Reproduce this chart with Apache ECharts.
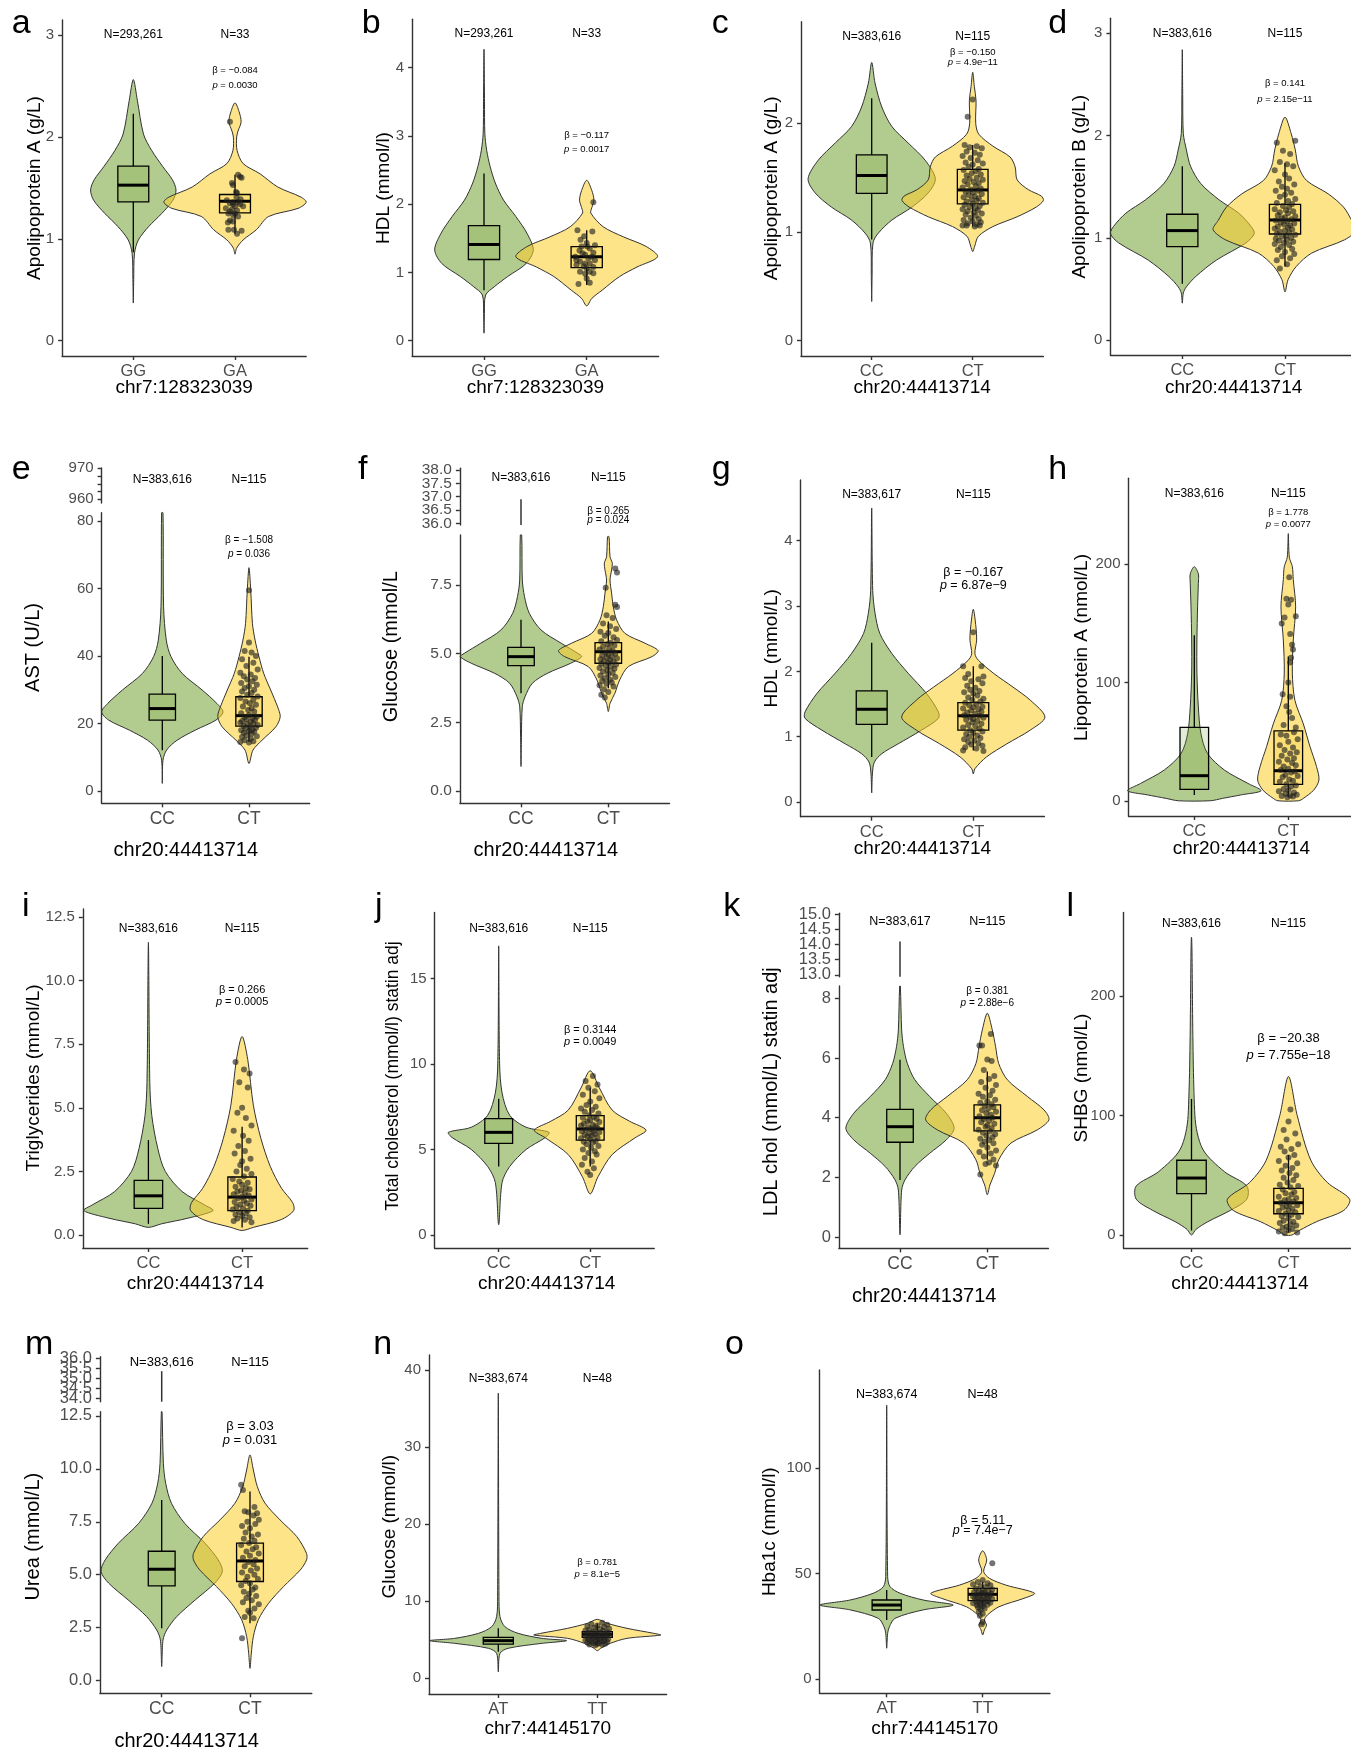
<!DOCTYPE html>
<html>
<head>
<meta charset="utf-8">
<script src="https://cdn.jsdelivr.net/npm/echarts@6.0.0/dist/echarts.min.js"></script>
<style>html,body{margin:0;padding:0;background:#fff;}#chart{width:1351px;height:1749px;}</style>
</head>
<body>
<div id="chart"></div>
<script>
// ======================= DATA =======================
const panelIds = ['a','b','c','d','e','f','g','h','i','j','k','l','m','n','o'];
const yTitles = ['Apolipoprotein A (g/L)','HDL (mmol/l)','Apolipoprotein A (g/L)','Apolipoprotein B (g/L)',
  'AST (U/L)','Glucose (mmol/L','HDL (mmol/L)','Lipoprotein A (nmol/L)',
  'Triglycerides (mmol/L)','Total cholesterol (mmol/l) statin adj','LDL chol (mmol/L) statin adj','SHBG (nmol/L)',
  'Urea (mmol/L)','Glucose (mmol/l)','Hba1c (mmol/l)'];
const xTitles = ['chr7:128323039','chr7:128323039','chr20:44413714','chr20:44413714',
  'chr20:44413714','chr20:44413714','chr20:44413714','chr20:44413714',
  'chr20:44413714','chr20:44413714','chr20:44413714','chr20:44413714',
  'chr20:44413714','chr7:44145170','chr7:44145170'];
const groupLabels = [['GG','GA'],['GG','GA'],['CC','CT'],['CC','CT'],['CC','CT'],['CC','CT'],['CC','CT'],['CC','CT'],
  ['CC','CT'],['CC','CT'],['CC','CT'],['CC','CT'],['CC','CT'],['AT','TT'],['AT','TT']];
const yTickLabels = [['0','1','2','3'],['0','1','2','3','4'],['0','1','2'],['0','1','2','3'],
  ['0','20','40','60','80'],['0.0','2.5','5.0','7.5'],['0','1','2','3','4'],['0','100','200'],
  ['0.0','2.5','5.0','7.5','10.0','12.5'],['0','5','10','15'],['0','2','4','6','8'],['0','100','200'],
  ['0.0','2.5','5.0','7.5','10.0','12.5'],['0','10','20','30','40'],['0','50','100']];
const nLabels = [['N=293,261','N=33'],['N=293,261','N=33'],['N=383,616','N=115'],['N=383,616','N=115'],
  ['N=383,616','N=115'],['N=383,616','N=115'],['N=383,617','N=115'],['N=383,616','N=115'],
  ['N=383,616','N=115'],['N=383,616','N=115'],['N=383,617','N=115'],['N=383,616','N=115'],
  ['N=383,616','N=115'],['N=383,674','N=48'],['N=383,674','N=48']];
const betaValues = ['\u22120.084','\u22120.117','\u22120.150','0.141','\u22121.508','0.265','\u22120.167','1.778',
  '0.266','0.3144','0.381','\u221220.38','3.03','0.781','5.11'];
const pValues = ['0.0030','0.0017','4.9e\u221211','2.15e\u221211','0.036','0.024','6.87e\u22129','0.0077',
  '0.0005','0.0049','2.88e\u22126','7.755e\u221218','0.031','8.1e\u22125','7.4e\u22127'];

// broken-axis upper segments (tick values / labelled ticks / whisker tail drawn there)
const e_upperTicks = ['960','962.5','965','967.5','970'];
const e_upperLabels = ['960','970'];
const f_upperTicks = ['36.0','36.5','37.0','37.5','38.0'];
const f_upperTail = [35.94, 36.9];
const k_upperTicks = ['13.0','13.5','14.0','14.5','15.0'];
const k_upperTail = [12.94, 14.1];
const m_upperTicks = ['34.0','34.5','35.0','35.5','36.0'];
const m_upperTail = [33.84, 35.36];

// violin outlines: [value, half-width in category units], top to bottom
const a_violin1 = [[2.565,0],[2.36,0.04],[2.03,0.1],[1.87,0.18],[1.71,0.29],[1.58,0.385],[1.48,0.42],[1.38,0.39],[1.25,0.28],[1.12,0.15],[0.99,0.05],[0.86,0.012],[0.6,0.004],[0.37,0]];
const a_violin2 = [[2.336,0],[2.25,0.04],[2.15,0.06],[2.06,0.03],[2.0,0.016],[1.87,0.02],[1.74,0.08],[1.64,0.245],[1.51,0.42],[1.41,0.65],[1.36,0.70],[1.30,0.62],[1.22,0.33],[1.09,0.21],[0.99,0.08],[0.91,0.016],[0.85,0]];
const b_violin1 = [[4.27,0],[3.5,0.005],[3.04,0.008],[2.79,0.026],[2.55,0.06],[2.31,0.11],[2.06,0.19],[1.82,0.31],[1.57,0.42],[1.33,0.48],[1.13,0.41],[0.94,0.23],[0.79,0.1],[0.67,0.016],[0.4,0.004],[0.11,0]];
const b_violin2 = [[2.35,0],[2.2,0.05],[2.06,0.07],[1.95,0.05],[1.87,0.04],[1.67,0.16],[1.52,0.36],[1.38,0.58],[1.23,0.69],[1.08,0.49],[0.94,0.32],[0.74,0.15],[0.62,0.05],[0.51,0]];
const c_violin1 = [[2.56,0],[2.37,0.033],[2.15,0.1],[1.97,0.2],[1.82,0.36],[1.66,0.53],[1.49,0.63],[1.36,0.56],[1.23,0.40],[1.11,0.2],[0.99,0.066],[0.9,0.013],[0.6,0.004],[0.36,0]];
const c_violin2 = [[2.47,0],[2.34,0.016],[2.21,0.033],[2.0,0.03],[1.9,0.06],[1.79,0.2],[1.69,0.37],[1.6,0.42],[1.48,0.44],[1.39,0.55],[1.33,0.68],[1.29,0.70],[1.23,0.63],[1.14,0.44],[1.05,0.2],[0.96,0.056],[0.87,0.02],[0.82,0]];
const d_violin1 = [[2.84,0],[2.4,0.004],[2.02,0.01],[1.86,0.04],[1.70,0.08],[1.53,0.18],[1.37,0.36],[1.24,0.55],[1.11,0.67],[1.04,0.70],[0.95,0.62],[0.78,0.33],[0.62,0.13],[0.52,0.04],[0.46,0.01],[0.36,0]];
const d_violin2 = [[2.18,0],[2.02,0.06],[1.86,0.1],[1.70,0.13],[1.56,0.21],[1.43,0.42],[1.30,0.57],[1.17,0.65],[1.08,0.70],[0.98,0.58],[0.85,0.26],[0.72,0.11],[0.59,0.03],[0.47,0]];
const e_violin1 = [[82.5,0.008],[54.6,0.015],[44.7,0.046],[39.8,0.1],[34.8,0.23],[29.9,0.46],[25.9,0.63],[23.4,0.70],[21.0,0.62],[18.0,0.38],[15.0,0.17],[12.1,0.05],[9.1,0.008],[2.2,0]];
const e_violin2 = [[66.2,0],[59.5,0.02],[49.6,0.04],[44.7,0.07],[39.8,0.115],[34.8,0.17],[29.9,0.25],[24.9,0.33],[22.0,0.36],[19.0,0.31],[15.0,0.15],[12.1,0.046],[8.1,0]];
const f_violin1 = [[9.32,0.008],[7.68,0.015],[7.08,0.04],[6.47,0.095],[5.86,0.23],[5.38,0.46],[5.01,0.65],[4.89,0.695],[4.65,0.57],[4.28,0.3],[3.92,0.13],[3.43,0.046],[3.07,0.015],[2.0,0.005],[0.89,0]];
const f_violin2 = [[9.26,0.008],[8.53,0.02],[8.29,0.046],[8.05,0.038],[7.68,0.02],[7.2,0.038],[6.71,0.057],[6.23,0.095],[5.74,0.19],[5.38,0.42],[5.11,0.57],[4.89,0.5],[4.53,0.23],[4.04,0.13],[3.56,0.076],[3.19,0.02],[2.89,0]];
const g_violin1 = [[4.5,0],[3.24,0.01],[2.89,0.033],[2.58,0.08],[2.27,0.2],[1.97,0.36],[1.66,0.54],[1.38,0.656],[1.28,0.656],[1.10,0.49],[0.89,0.26],[0.74,0.1],[0.61,0.026],[0.43,0.007],[0.14,0]];
const g_violin2 = [[2.95,0],[2.68,0.026],[2.48,0.033],[2.27,0.016],[2.17,0.05],[1.97,0.2],[1.76,0.39],[1.56,0.56],[1.30,0.705],[1.10,0.56],[0.89,0.33],[0.69,0.13],[0.51,0.016],[0.43,0]];
const h_violin1 = [[198,0],[192,0.043],[184,0.043],[164,0.035],[136,0.028],[108,0.028],[79.5,0.043],[57,0.07],[40,0.14],[26,0.32],[14.7,0.57],[8.5,0.71],[5,0.5],[2,0.3],[0,0.17]];
const h_violin2 = [[226,0],[206,0.011],[198,0.043],[187,0.053],[164,0.078],[136,0.053],[108,0.043],[85,0.07],[65,0.16],[46,0.23],[29,0.30],[17.5,0.326],[9,0.27],[2,0.16],[0,0.11]];
const i_violin1 = [[11.5,0],[6,0.015],[4.7,0.036],[3.4,0.1],[2.5,0.18],[1.71,0.36],[1.18,0.6],[0.96,0.69],[0.66,0.42],[0.44,0.14],[0.3,0]];
const i_violin2 = [[7.8,0],[6.9,0.06],[5.1,0.12],[3.8,0.2],[2.7,0.3],[1.84,0.42],[1.27,0.54],[0.96,0.55],[0.61,0.42],[0.3,0.12],[0.18,0]];
const j_violin1 = [[16.9,0],[10,0.01],[8.3,0.037],[7.0,0.12],[6.3,0.3],[6.0,0.55],[5.7,0.51],[5.0,0.3],[4.0,0.12],[3.07,0.037],[0.6,0]];
const j_violin2 = [[9.6,0],[8.6,0.1],[7.3,0.24],[6.65,0.43],[6.13,0.61],[5.68,0.49],[4.7,0.24],[3.4,0.085],[2.4,0]];
const k_violin1 = [[8.41,0.004],[6.94,0.019],[6.38,0.04],[5.82,0.084],[5.27,0.17],[4.71,0.34],[4.15,0.53],[3.65,0.62],[3.26,0.53],[2.81,0.34],[2.37,0.17],[1.92,0.057],[1.58,0.019],[0.08,0]];
const k_violin2 = [[7.5,0],[6.94,0.057],[6.38,0.095],[5.82,0.13],[5.27,0.23],[4.71,0.46],[4.26,0.65],[3.93,0.706],[3.59,0.57],[3.15,0.27],[2.59,0.13],[2.14,0.084],[1.75,0.03],[1.42,0]];
const l_violin1 = [[249.5,0],[100,0.035],[72,0.115],[53,0.34],[41,0.57],[30,0.57],[20.6,0.4],[11.2,0.17],[4.7,0.046],[0,0]];
const l_violin2 = [[132.7,0],[100,0.09],[62.6,0.23],[44,0.4],[30,0.63],[20.6,0.57],[11.2,0.29],[3.7,0.11],[0,0.035]];
const m_violin1 = [[12.7,0.004],[10.26,0.019],[9.32,0.045],[8.38,0.11],[7.43,0.26],[6.49,0.49],[5.70,0.64],[5.15,0.687],[4.6,0.6],[3.81,0.38],[3.02,0.17],[2.39,0.057],[1.92,0.015],[0.66,0]];
const m_violin2 = [[10.66,0],[9.95,0.038],[9.16,0.083],[8.38,0.17],[7.59,0.34],[6.8,0.53],[6.01,0.64],[5.70,0.64],[5.23,0.57],[4.44,0.38],[3.65,0.21],[2.87,0.094],[2.08,0.038],[1.29,0.015],[0.58,0]];
const n_violin1 = [[37,0],[10.6,0.007],[8,0.017],[6.7,0.067],[5.84,0.2],[5.19,0.44],[4.89,0.69],[4.54,0.44],[3.9,0.1],[3.24,0.017],[0.86,0]];
const n_violin2 = [[7.65,0],[7.14,0.1],[6.49,0.3],[5.84,0.57],[5.62,0.64],[5.19,0.3],[4.54,0.13],[3.9,0.034],[3.59,0]];
const o_violin1 = [[130,0],[48.6,0.01],[43.8,0.035],[40.7,0.14],[37.5,0.38],[35.1,0.694],[32.8,0.38],[28.8,0.087],[24.8,0.028],[21.7,0.01],[14.6,0]];
const o_violin2 = [[60.9,0],[56.5,0.042],[51,0.01],[47.8,0.07],[44.6,0.24],[40.7,0.54],[38.3,0.43],[34.3,0.17],[30.4,0.05],[28,0.017],[25.6,0.04],[23.3,0.017],[20.9,0]];

// boxplots: [lower whisker, Q1, median, Q3, upper whisker]
const a_box1 = [0.87,1.364,1.528,1.714,2.23],   a_box2 = [1.05,1.256,1.37,1.436,1.63];
const b_box1 = [0.74,1.19,1.41,1.685,2.45],     b_box2 = [0.816,1.07,1.23,1.377,1.62];
const c_box1 = [0.93,1.356,1.52,1.71,2.23],     c_box2 = [1.05,1.258,1.387,1.577,1.80];
const d_box1 = [0.55,0.913,1.07,1.23,1.70],     d_box2 = [0.72,1.037,1.174,1.327,1.73];
const e_box1 = [12,21.0,24.4,28.7,40.0],        e_box2 = [14.5,19.2,22.3,27.9,39.8];
const f_box1 = [3.56,4.56,4.89,5.23,6.23],      f_box2 = [3.74,4.65,5.07,5.40,6.17];
const g_box1 = [0.69,1.19,1.42,1.70,2.44],      g_box2 = [0.79,1.10,1.32,1.52,2.08];
const h_box1 = [4.8,9.6,21.2,62,140],           h_box2 = [3.4,13.8,25.4,59.2,122];
const i_box1 = [0.44,1.05,1.54,2.15,3.73],      i_box2 = [0.3,0.96,1.49,2.28,4.25];
const j_box1 = [4.0,5.35,6.0,6.8,7.96],         j_box2 = [4.0,5.54,6.2,6.98,8.6];
const k_box1 = [1.92,3.18,3.70,4.28,5.94],      k_box2 = [2.59,3.56,4.0,4.43,5.55];
const l_box1 = [3.7,34.6,47.7,62.6,114],        l_box2 = [2,17.8,27,39,67];
const m_box1 = [2.47,4.47,5.26,6.11,8.53],      m_box2 = [2.71,4.68,5.65,6.49,8.93];
const n_box1 = [3.46,4.45,4.89,5.32,6.49],      n_box2 = [4.32,5.32,5.71,6.05,7.13];
const o_box1 = [28,32.75,35.1,37.5,42.2],       o_box2 = [34.3,37.2,40.2,43.0,46.2];

// jittered individual points of the second genotype: [offset from category, value]
const a_points = [[-0.05,2.15],[-0.03,1.55],[-0.02,1.53],[0.03,1.63],[0.05,1.61],[0.065,1.60],[0.01,1.46],[0.02,1.45],[-0.02,1.36],[-0.05,1.35],[-0.08,1.38],[0,1.32],[0.05,1.34],[-0.03,1.29],[0.02,1.28],[-0.065,1.25],[-0.015,1.23],[0.03,1.22],[-0.05,1.18],[-0.02,1.17],[-0.07,1.16],[0.015,1.41],[0.055,1.39],[-0.01,1.09],[0.02,1.05],[0.065,1.08],[-0.065,1.09],[-0.02,1.34],[0.03,1.36],[0,1.25],[-0.05,1.27],[0.08,1.32],[-0.09,1.30]];
const b_points = [[0.065,2.03],[-0.09,1.62],[0.055,1.6],[-0.025,1.53],[0,1.43],[-0.05,1.38],[0.03,1.35],[-0.07,1.32],[0.065,1.29],[-0.015,1.26],[-0.11,1.23],[0.015,1.21],[0.08,1.18],[-0.065,1.16],[0.03,1.13],[-0.03,1.09],[-0.1,1.11],[0.065,1.08],[0,1.06],[-0.065,1.01],[0.03,1.01],[-0.015,0.98],[-0.08,0.83],[0.03,0.85],[-0.04,1.28],[0.05,1.23],[0.005,1.38],[-0.06,1.48],[0.08,1.40],[-0.015,1.13],[-0.1,1.18],[0.065,0.99],[0,0.91]];
const c_points = [[-0.05,2.06],[0.0,2.22],[-0.08,1.80],[-0.03,1.78],[0.04,1.79],[0.09,1.77],[-0.06,1.74],[0.02,1.73],[0.07,1.71],[-0.1,1.70],[-0.02,1.68],[0.05,1.66],[-0.07,1.64],[0.1,1.63],[0.0,1.62],[-0.04,1.60],[0.06,1.58],[-0.09,1.57],[0.03,1.56],[-0.01,1.54],[0.08,1.53],[-0.06,1.52],[0.04,1.50],[-0.03,1.49],[0.1,1.48],[-0.08,1.47],[0.01,1.46],[0.06,1.45],[-0.05,1.44],[0.03,1.42],[-0.1,1.41],[0.08,1.40],[-0.02,1.39],[0.05,1.38],[-0.07,1.37],[0.0,1.36],[0.09,1.35],[-0.04,1.34],[0.02,1.33],[-0.09,1.32],[0.06,1.31],[-0.01,1.30],[0.04,1.29],[-0.06,1.28],[0.1,1.27],[0.0,1.26],[-0.08,1.25],[0.07,1.24],[-0.03,1.23],[0.03,1.22],[-0.1,1.21],[0.05,1.20],[-0.05,1.19],[0.01,1.18],[0.09,1.17],[-0.07,1.16],[0.03,1.15],[-0.02,1.13],[0.06,1.12],[-0.09,1.11],[0.0,1.10],[0.08,1.09],[-0.05,1.08],[0.04,1.07],[-0.1,1.06],[-0.06,1.06],[0.07,1.06],[0.02,1.05]];
const d_points = [[0.1,1.95],[-0.08,1.93],[-0.02,1.85],[0.05,1.82],[-0.05,1.74],[0.02,1.72],[0.08,1.70],[-0.1,1.66],[0.0,1.62],[0.04,1.58],[-0.06,1.55],[0.09,1.52],[-0.03,1.50],[0.02,1.48],[-0.09,1.46],[0.06,1.44],[0.0,1.42],[-0.05,1.40],[0.1,1.38],[0.03,1.36],[-0.08,1.34],[0.07,1.33],[-0.02,1.31],[0.04,1.30],[-0.1,1.28],[0.01,1.27],[0.08,1.26],[-0.05,1.25],[0.03,1.24],[-0.07,1.22],[0.1,1.21],[0.0,1.20],[-0.03,1.19],[0.06,1.18],[-0.09,1.17],[0.02,1.16],[-0.04,1.15],[0.09,1.14],[-0.01,1.13],[0.05,1.12],[-0.07,1.11],[0.03,1.10],[-0.1,1.09],[0.07,1.08],[0.0,1.07],[-0.05,1.06],[0.04,1.05],[-0.08,1.04],[0.1,1.03],[0.01,1.02],[-0.03,1.01],[0.06,1.00],[-0.09,0.99],[0.02,0.98],[-0.06,0.97],[0.08,0.96],[-0.01,0.95],[-0.1,0.94],[0.04,0.93],[-0.04,0.91],[0.07,0.89],[-0.07,0.88],[0.0,0.86],[0.09,0.84],[-0.03,0.82],[0.05,0.80],[-0.08,0.78],[0.02,0.74],[-0.05,0.70]];
const e_points = [[0.0,59.5],[0.0,44],[-0.05,41.5],[0.03,41],[0.08,40],[-0.08,39],[0.05,38],[-0.03,37],[0.1,36],[-0.1,35],[0.02,34.5],[-0.06,34],[0.07,33.5],[-0.02,33],[0.04,32.5],[-0.09,32],[0.09,31.5],[0.0,31],[-0.05,30.5],[0.06,30],[-0.08,29.5],[0.03,29],[-0.02,28.5],[0.1,28],[-0.1,27.5],[0.05,27],[-0.04,26.5],[0.01,26],[0.08,25.5],[-0.07,25],[0.03,24.5],[-0.01,24],[0.06,23.5],[-0.09,23],[0.0,22.5],[0.09,22],[-0.05,21.8],[0.04,21.5],[-0.03,21.2],[0.07,21],[-0.08,20.7],[0.02,20.5],[-0.1,20.2],[0.05,20],[-0.02,19.8],[0.1,19.5],[-0.06,19.2],[0.01,19],[0.08,18.7],[-0.04,18.5],[0.04,18.2],[-0.09,18],[0.0,17.7],[0.06,17.5],[-0.06,17.2],[0.03,17],[-0.03,16.5],[0.09,16.2],[-0.08,16],[0.02,15.5],[-0.05,15],[0.05,14.7],[-0.1,14.5],[0.0,14.3]];
const f_points = [[0.08,8.1],[0.1,7.95],[-0.03,7.4],[0.08,6.78],[0.1,6.7],[-0.02,6.4],[0.05,6.3],[-0.06,6.1],[0.02,6.0],[0.09,5.9],[-0.09,5.8],[0.0,5.75],[-0.04,5.65],[0.06,5.6],[0.1,5.5],[-0.08,5.45],[0.03,5.4],[-0.01,5.35],[0.07,5.3],[-0.06,5.25],[0.01,5.2],[-0.1,5.15],[0.05,5.1],[-0.03,5.05],[0.08,5.0],[0.0,4.97],[-0.07,4.93],[0.04,4.9],[-0.02,4.86],[0.1,4.83],[-0.09,4.8],[0.02,4.77],[-0.05,4.73],[0.06,4.7],[0.0,4.67],[-0.08,4.63],[0.09,4.6],[-0.03,4.56],[0.03,4.52],[-0.1,4.48],[0.07,4.45],[-0.01,4.4],[-0.06,4.35],[0.05,4.3],[0.0,4.25],[-0.09,4.2],[0.08,4.15],[-0.04,4.1],[0.02,4.05],[-0.07,4.0],[0.04,3.95],[-0.02,3.9],[-0.1,3.85],[0.06,3.8],[-0.05,3.7],[0.0,3.6],[-0.08,3.5],[-0.04,3.4]];
const g_points = [[0.0,2.6],[-0.1,2.08],[0.08,2.08],[-0.05,1.96],[0.1,1.92],[-0.08,1.9],[0.05,1.88],[-0.02,1.85],[0.09,1.82],[-0.06,1.78],[0.02,1.75],[-0.03,1.72],[0.06,1.7],[-0.09,1.68],[0.0,1.66],[0.04,1.63],[-0.05,1.6],[0.1,1.58],[-0.01,1.56],[0.07,1.54],[-0.08,1.52],[0.03,1.5],[-0.04,1.48],[0.09,1.46],[0.0,1.45],[-0.1,1.43],[0.05,1.42],[-0.02,1.4],[0.08,1.38],[-0.06,1.37],[0.02,1.35],[-0.09,1.33],[0.06,1.32],[-0.03,1.3],[0.1,1.29],[0.0,1.27],[-0.07,1.26],[0.04,1.24],[-0.01,1.22],[0.08,1.2],[-0.05,1.18],[0.02,1.16],[-0.1,1.14],[0.06,1.12],[-0.03,1.1],[0.09,1.08],[0.0,1.06],[-0.07,1.04],[0.04,1.02],[-0.04,1.0],[0.07,0.98],[-0.09,0.96],[0.01,0.94],[-0.05,0.92],[0.05,0.9],[-0.02,0.88],[0.09,0.86],[-0.08,0.84],[0.03,0.82],[-0.1,0.79],[0.1,0.78]];
const h_points = [[0.01,189],[-0.02,171],[0.03,170],[0.0,166],[-0.07,150],[0.08,156],[-0.04,155],[0.02,141],[0.04,132],[0.05,128],[0.03,121],[0.02,117],[0.0,100],[-0.06,90],[0.02,88],[-0.02,80],[0.01,75],[0.04,70],[-0.05,64],[0.08,62],[0.06,58],[-0.08,56],[-0.02,55],[0.1,52],[0.0,50],[-0.09,47],[0.05,45],[-0.04,43],[0.09,41],[0.02,40],[-0.07,38],[0.06,36],[-0.01,35],[-0.1,33],[0.04,32],[0.08,30],[-0.05,29],[0.0,27],[-0.08,26],[0.07,25],[0.03,24],[-0.03,22],[0.1,21],[-0.06,20],[0.01,18],[0.05,17],[-0.09,16],[-0.02,14],[0.08,13],[0.03,12],[-0.05,10],[0.0,9],[-0.1,8],[0.06,7],[-0.03,6],[0.09,5],[0.02,4.5],[-0.07,4],[0.05,3.5],[-0.01,3]];
const i_points = [[-0.07,6.8],[0.02,6.5],[0.08,6.35],[-0.03,6.0],[0.06,5.8],[0.0,5.0],[-0.05,4.8],[0.04,4.6],[0.1,4.3],[-0.09,4.1],[0.01,3.9],[0.07,3.7],[-0.04,3.5],[0.03,3.3],[-0.08,3.2],[0.09,3.0],[0.0,2.9],[-0.02,2.75],[0.05,2.6],[-0.06,2.5],[0.1,2.4],[0.02,2.3],[-0.1,2.2],[-0.03,2.1],[0.06,2.05],[0.0,1.98],[-0.07,1.9],[0.04,1.85],[0.08,1.8],[-0.01,1.75],[-0.05,1.7],[0.03,1.65],[-0.09,1.6],[0.07,1.55],[0.0,1.5],[-0.04,1.45],[0.1,1.4],[0.02,1.35],[-0.08,1.3],[0.05,1.25],[-0.02,1.2],[0.09,1.15],[-0.06,1.1],[0.01,1.05],[-0.1,1.0],[0.06,0.95],[-0.03,0.9],[0.04,0.85],[-0.07,0.8],[0.0,0.75],[0.08,0.7],[-0.05,0.65],[0.03,0.6],[-0.09,0.55],[0.1,0.5]];
const j_points = [[0.03,9.3],[-0.05,9.0],[0.08,8.8],[-0.02,8.6],[0.05,8.4],[-0.08,8.2],[0.1,8.0],[0.0,7.8],[-0.04,7.6],[0.06,7.5],[-0.1,7.4],[0.02,7.3],[-0.06,7.2],[0.09,7.1],[-0.01,7.0],[0.04,6.9],[-0.08,6.85],[0.07,6.8],[0.0,6.7],[-0.03,6.65],[0.1,6.6],[-0.07,6.5],[0.03,6.45],[-0.1,6.4],[0.06,6.35],[-0.02,6.3],[0.08,6.25],[0.01,6.2],[-0.05,6.15],[0.04,6.1],[-0.09,6.05],[0.1,6.0],[-0.01,5.95],[0.05,5.9],[-0.06,5.85],[0.02,5.8],[-0.03,5.75],[0.08,5.7],[-0.1,5.65],[0.0,5.6],[0.06,5.5],[-0.07,5.45],[0.03,5.4],[-0.04,5.3],[0.09,5.2],[0.01,5.1],[-0.08,5.0],[0.05,4.9],[-0.02,4.8],[0.07,4.7],[-0.06,4.5],[0.02,4.3],[-0.09,4.1],[0.04,3.9],[-0.03,3.7],[0.0,3.5]];
const k_points = [[0.04,6.8],[-0.09,6.42],[-0.06,6.42],[0.0,5.95],[0.05,5.9],[-0.04,5.6],[0.08,5.4],[0.02,5.3],[-0.07,5.2],[0.1,5.1],[-0.02,5.0],[0.06,4.9],[-0.1,4.8],[0.03,4.75],[-0.05,4.7],[0.09,4.6],[0.0,4.55],[-0.08,4.5],[0.05,4.45],[-0.03,4.4],[0.07,4.35],[0.01,4.3],[-0.06,4.25],[0.1,4.2],[-0.01,4.15],[0.04,4.1],[-0.09,4.05],[0.06,4.0],[-0.04,3.95],[0.02,3.9],[-0.07,3.85],[0.08,3.8],[0.0,3.75],[-0.02,3.7],[0.05,3.65],[-0.1,3.6],[0.03,3.55],[-0.05,3.5],[0.09,3.45],[-0.01,3.4],[0.06,3.35],[-0.08,3.3],[0.02,3.25],[-0.03,3.2],[0.07,3.15],[-0.06,3.1],[0.0,3.0],[0.1,2.9],[-0.09,2.85],[0.04,2.8],[-0.04,2.7],[0.07,2.6],[0.02,2.5],[-0.02,2.45],[0.1,2.4],[-0.08,2.1]];
const l_points = [[0.02,105],[0.0,95],[-0.05,88],[0.07,85],[-0.02,80],[0.1,76],[-0.08,74],[0.03,72],[-0.04,70],[0.06,67],[0.0,65],[-0.1,62],[0.09,60],[-0.03,58],[0.04,56],[-0.07,54],[0.01,52],[0.08,50],[-0.05,48],[0.05,46],[-0.01,44],[-0.09,42],[0.1,41],[0.02,40],[-0.06,38],[0.06,36],[-0.03,35],[0.03,34],[-0.1,32],[0.08,31],[0.0,30],[-0.04,29],[0.05,28],[-0.08,27],[0.01,26],[0.09,25],[-0.02,24],[-0.06,23],[0.04,22],[0.0,21],[-0.1,20],[0.07,19],[-0.03,18],[0.03,17],[-0.07,16],[0.1,15],[0.0,14],[-0.05,12],[0.05,11],[-0.09,10],[0.02,9],[0.08,8],[-0.02,7],[-0.06,6],[0.04,5],[0.0,4],[-0.1,3],[0.09,2],[-0.04,1.5]];
const m_points = [[-0.1,9.25],[-0.08,9.0],[0.05,8.2],[-0.06,8.0],[-0.02,7.95],[0.08,7.9],[0.04,7.8],[0.1,7.6],[-0.03,7.5],[0.06,7.4],[-0.09,7.3],[0.0,7.2],[-0.05,7.0],[0.09,6.9],[0.02,6.8],[-0.07,6.7],[0.05,6.6],[-0.01,6.5],[-0.1,6.4],[0.07,6.3],[0.03,6.2],[-0.04,6.1],[0.1,6.0],[0.0,5.9],[-0.08,5.8],[0.06,5.7],[-0.02,5.6],[0.04,5.5],[-0.06,5.4],[0.08,5.3],[0.01,5.2],[-0.09,5.1],[0.05,5.0],[-0.03,4.9],[0.09,4.8],[-0.05,4.7],[0.0,4.6],[-0.1,4.5],[0.06,4.4],[0.03,4.3],[-0.07,4.2],[-0.01,4.1],[0.07,4.0],[-0.04,3.9],[0.02,3.8],[-0.08,3.7],[0.1,3.6],[0.05,3.4],[-0.02,3.3],[0.0,3.2],[-0.06,3.0],[0.04,2.95],[-0.09,2.0]];
const n_points = [[0.05,7.2],[-0.06,7.05],[0.1,6.95],[0.0,6.85],[-0.1,6.75],[0.07,6.65],[-0.03,6.55],[0.12,6.45],[0.03,6.4],[-0.08,6.3],[-0.12,6.2],[0.06,6.15],[-0.02,6.1],[0.1,6.0],[-0.06,5.95],[0.02,5.9],[-0.1,5.85],[0.08,5.8],[0.0,5.75],[-0.04,5.7],[0.12,5.65],[-0.12,5.6],[0.05,5.55],[-0.07,5.5],[0.01,5.45],[0.09,5.4],[-0.03,5.35],[-0.1,5.3],[0.06,5.25],[-0.05,5.2],[0.03,5.15],[0.11,5.1],[-0.08,5.05],[0.0,5.0],[-0.12,4.95],[0.07,4.9],[-0.02,4.85],[0.04,4.8],[-0.06,4.75],[0.1,4.7],[-0.1,4.65],[0.02,4.6],[-0.04,4.55],[0.08,4.5],[0.0,4.45],[-0.08,4.4],[0.05,4.35],[-0.02,4.3]];
const o_points = [[0.1,55],[0.0,47],[-0.05,46],[0.05,45.5],[-0.1,45],[0.08,44.5],[-0.02,44],[0.03,43.5],[-0.07,43],[0.1,42.5],[0.0,42],[-0.04,41.8],[0.06,41.5],[-0.09,41.2],[0.02,41],[-0.01,40.8],[0.09,40.5],[-0.06,40.2],[0.04,40],[-0.03,39.8],[0.07,39.5],[-0.1,39.2],[0.01,39],[-0.05,38.8],[0.05,38.5],[-0.08,38.2],[0.1,38],[0.0,37.8],[-0.02,37.5],[0.06,37.2],[-0.07,37],[0.03,36.8],[-0.04,36.5],[0.08,36.2],[-0.1,36],[0.01,35.8],[-0.03,35.5],[0.05,35.2],[-0.06,35],[0.0,34.5],[-0.05,34],[0.02,33.5],[-0.02,33],[-0.04,32],[0.0,31],[-0.03,30],[0.0,27],[-0.01,26]];

// ======================= LAYOUT & STYLE (pixels) =======================
const FONT = '"Liberation Sans", Arial, Helvetica, sans-serif';
const GREEN_V = 'rgba(115,160,50,0.55)', GREEN_B = 'rgba(115,160,50,0.2)';
const YEL_V = 'rgba(252,205,40,0.55)', YEL_B = 'rgba(252,205,40,0.22)';
const AXIS_C = '#333', TICK_C = '#4d4d4d';
const BOX_HALF = 0.152;
const layout = {
 a:{x1:133.3,x2:235,top:20,bottom:356,min:-0.15,max:3.15,letter:[11.7,35],yt:[35,188,19],xt:[184.2,388,19],ann:[35,70,85,12,9.5],tickFs:15,catFs:16.5},
 b:{x1:484,x2:586.7,top:19.3,bottom:356,min:-0.224,max:4.709,letter:[361.7,35],yt:[384,188,19],xt:[535.4,388,19],ann:[34,135.7,149,12,9.5],tickFs:15,catFs:16.5},
 c:{x1:871.7,x2:972.7,top:21.7,bottom:356,min:-0.141,max:2.935,letter:[711.7,35],yt:[771.7,188.3,19],xt:[922.2,388,19],ann:[36.7,52.3,62.7,12,9.5],tickFs:15,catFs:16.5},
 d:{x1:1182.3,x2:1285,top:18.3,bottom:355,min:-0.147,max:3.147,letter:[1048.3,35],yt:[1080,186.7,19],xt:[1233.6,388,19],ann:[33.3,83.3,99,12,9.5],tickFs:15,catFs:16.5},
 e:{x1:162.3,x2:249,top:512.7,bottom:803.3,min:-3.7,max:82.5,upper:{top:468,bottom:503,min:958.8,max:970.1},letter:[11.7,481.7],yt:[33.3,647.5,20],xt:[185.8,850,20],ann:[480,540.7,554,12,10],tickFs:15,catFs:17.5},
 f:{x1:521,x2:608.3,top:535,bottom:803.3,min:-0.45,max:9.32,upper:{top:468.3,bottom:525,min:35.94,max:38.06},letter:[358,481.7],yt:[391.7,646.7,20],xt:[545.8,850,20],ann:[477.7,511,520.7,12,10],tickFs:15.5,catFs:17.5},
 g:{x1:871.7,x2:973.3,top:480,bottom:816.7,min:-0.225,max:4.93,letter:[711.7,481.7],yt:[771.7,648.3,19],xt:[922.5,848.3,19],ann:[495,572.7,585.7,12,12.5],tickFs:15,catFs:16.5},
 h:{x1:1194.3,x2:1288.3,top:478.3,bottom:816,min:-12.9,max:272.8,letter:[1048.3,481.7],yt:[1081.7,647.5,19],xt:[1241.3,848.3,19],ann:[493.3,512.7,524.3,12,9.5],tickFs:15,catFs:16.5},
 i:{x1:148.4,x2:242.1,top:909,bottom:1248,min:-0.51,max:12.81,letter:[22,918.2],yt:[33.5,1078,19],xt:[195.3,1284,19],ann:[928.2,989.5,1001.8,12,11],tickFs:15,catFs:16.5},
 j:{x1:498.7,x2:590.2,top:912.5,bottom:1248,min:-0.76,max:18.85,letter:[375,918.2],yt:[392.7,1076,17.5],xt:[546.6,1284,19],ann:[928.2,1029.7,1042,12,11],tickFs:15,catFs:16.5},
 k:{x1:900,x2:987.3,top:986,bottom:1248.3,min:-0.37,max:8.41,upper:{top:913.3,bottom:976.7,min:12.94,max:15.03},letter:[723.3,918.2],yt:[771.7,1091.7,20],xt:[924.2,1296,20],ann:[921.7,991.7,1003.3,12.5,10],tickFs:16.5,catFs:17.5},
 l:{x1:1191.5,x2:1288.5,top:912.5,bottom:1248,min:-10.9,max:270.1,letter:[1066.5,918.2],yt:[1082,1078,19],xt:[1240,1284,19],ann:[923.7,1038.6,1055.4,12,13],tickFs:15,catFs:16.5},
 m:{x1:161.7,x2:250,top:1411.7,bottom:1693.3,min:-0.6,max:12.7,upper:{top:1356.7,bottom:1401.7,min:33.84,max:36.08},letter:[25,1356.7],yt:[33.3,1536.7,20],xt:[186.7,1741.7,20],ann:[1362.7,1426.7,1440,13,13],tickFs:16.5,catFs:17.5},
 n:{x1:498.3,x2:597.3,top:1355,bottom:1694,min:-2.03,max:41.95,letter:[373.3,1356.7],yt:[390,1526.7,19],xt:[547.8,1728.3,19],ann:[1378.3,1562.3,1574.3,12,9.5],tickFs:15,catFs:16.5},
 o:{x1:886.7,x2:982.7,top:1370,bottom:1693.3,min:-6.8,max:146.7,letter:[725,1356.7],yt:[770,1531.7,19],xt:[934.7,1728.3,19],ann:[1395,1521,1531,12.5,12.5],tickFs:15,catFs:17}
};

// ======================= BUILD =======================
const violins = {a:[a_violin1,a_violin2],b:[b_violin1,b_violin2],c:[c_violin1,c_violin2],d:[d_violin1,d_violin2],e:[e_violin1,e_violin2],f:[f_violin1,f_violin2],g:[g_violin1,g_violin2],h:[h_violin1,h_violin2],i:[i_violin1,i_violin2],j:[j_violin1,j_violin2],k:[k_violin1,k_violin2],l:[l_violin1,l_violin2],m:[m_violin1,m_violin2],n:[n_violin1,n_violin2],o:[o_violin1,o_violin2]};
const boxes = {a:[a_box1,a_box2],b:[b_box1,b_box2],c:[c_box1,c_box2],d:[d_box1,d_box2],e:[e_box1,e_box2],f:[f_box1,f_box2],g:[g_box1,g_box2],h:[h_box1,h_box2],i:[i_box1,i_box2],j:[j_box1,j_box2],k:[k_box1,k_box2],l:[l_box1,l_box2],m:[m_box1,m_box2],n:[n_box1,n_box2],o:[o_box1,o_box2]};
const points = {a:a_points,b:b_points,c:c_points,d:d_points,e:e_points,f:f_points,g:g_points,h:h_points,i:i_points,j:j_points,k:k_points,l:l_points,m:m_points,n:n_points,o:o_points};
const uppers = {
  e:{ticks:e_upperTicks, labels:e_upperLabels, tail:null},
  f:{ticks:f_upperTicks, labels:f_upperTicks, tail:f_upperTail},
  k:{ticks:k_upperTicks, labels:k_upperTicks, tail:k_upperTail},
  m:{ticks:m_upperTicks, labels:m_upperTicks, tail:m_upperTail}
};

const grids = [], xAxes = [], yAxes = [], series = [], graphics = [];
const axisLineStyle = {color: AXIS_C, width: 1.4};

function labelFor(list, v) {
  const s = list.find(t => Math.abs(parseFloat(t) - v) < 1e-6);
  return s === undefined ? '' : s;
}

function violinRender(profile, cat, fill) {
  return function (params, api) {
    const pts = [];
    profile.forEach(([y, w]) => pts.push(api.coord([cat + w, y])));
    for (let k = profile.length - 1; k >= 0; k--) {
      const [y, w] = profile[k];
      if (w > 0) pts.push(api.coord([cat - w, y]));
    }
    return {type: 'polygon', shape: {points: pts, smooth: 0.3}, style: {fill: fill, stroke: '#333', lineWidth: 1}};
  };
}
function boxRender(b, cat, fill) {
  return function (params, api) {
    const [lo, q1, med, q3, hi] = b;
    const pLo = api.coord([cat, lo]), pQ1 = api.coord([cat, q1]), pQ3 = api.coord([cat, q3]), pHi = api.coord([cat, hi]);
    const ml = api.coord([cat - BOX_HALF, med]), mr = api.coord([cat + BOX_HALF, med]);
    const ls = {stroke: '#000', lineWidth: 1.3};
    return {type: 'group', children: [
      {type: 'line', shape: {x1: pHi[0], y1: pHi[1], x2: pQ3[0], y2: pQ3[1]}, style: ls},
      {type: 'line', shape: {x1: pQ1[0], y1: pQ1[1], x2: pLo[0], y2: pLo[1]}, style: ls},
      {type: 'rect', shape: {x: ml[0], y: pQ3[1], width: mr[0] - ml[0], height: pQ1[1] - pQ3[1]}, style: {fill: fill, stroke: '#000', lineWidth: 1.3}},
      {type: 'line', shape: {x1: ml[0], y1: ml[1], x2: mr[0], y2: mr[1]}, style: {stroke: '#000', lineWidth: 3}}
    ]};
  };
}
function tailRender(tail) {
  return function (params, api) {
    const p0 = api.coord([1, tail[0]]), p1 = api.coord([1, tail[1]]);
    return {type: 'line', shape: {x1: p0[0], y1: p0[1], x2: p1[0], y2: p1[1]}, style: {stroke: '#333', lineWidth: 1.5}};
  };
}
// tick labels of the broken (upper) axis segments, placed through the axis scale
function upperLabelRender(labels, fs) {
  return function (params, api) {
    const v = api.value(1);
    const p = api.coord([0.3, v]);
    return {type: 'text', x: p[0] - 8, y: p[1], silent: true,
      style: {text: labelFor(labels, v), fontSize: fs, fontFamily: FONT, fill: TICK_C, align: 'right', verticalAlign: 'middle'}};
  };
}
function text(x, y, str, fs, opt) {
  opt = opt || {};
  const st = {text: str, fontSize: fs, fontFamily: FONT, fill: opt.fill || '#000',
    align: opt.align || 'center', verticalAlign: 'middle', textAlign: opt.align || 'center', textVerticalAlign: 'middle'};
  if (opt.rich) st.rich = opt.rich;
  return {type: 'text', x: x, y: y, rotation: opt.rot || 0, silent: true, z: 100, style: st};
}

panelIds.forEach((id, pi) => {
  const L = layout[id];
  const s = L.x2 - L.x1;
  const left = L.x1 - 0.7 * s, width = 2.4 * s;
  const gi = grids.length;
  grids.push({left: left, top: L.top, width: width, height: L.bottom - L.top, containLabel: false, outerBoundsMode: 'none'});
  const groups = groupLabels[pi];
  xAxes.push({gridIndex: gi, type: 'value', min: 0.3, max: 2.7,
    axisLine: {show: true, onZero: false, lineStyle: axisLineStyle},
    axisTick: {show: true, length: 4, inside: false, customValues: [1, 2], lineStyle: axisLineStyle},
    axisLabel: {show: true, customValues: [1, 2], margin: 7, color: TICK_C, fontSize: L.catFs, fontFamily: FONT,
      showMinLabel: true, showMaxLabel: true, formatter: v => groups[Math.round(v) - 1] || ''},
    splitLine: {show: false}});
  const tl = yTickLabels[pi];
  const tv = tl.map(parseFloat);
  yAxes.push({gridIndex: gi, type: 'value', min: L.min, max: L.max,
    axisLine: {show: true, onZero: false, lineStyle: axisLineStyle},
    axisTick: {show: true, length: 4, inside: false, customValues: tv, lineStyle: axisLineStyle},
    axisLabel: {show: true, customValues: tv, margin: 8, color: TICK_C, fontSize: L.tickFs, fontFamily: FONT,
      showMinLabel: true, showMaxLabel: true, hideOverlap: false, formatter: v => labelFor(tl, v)},
    splitLine: {show: false}});

  const vs = violins[id], bs = boxes[id];
  series.push({type: 'custom', xAxisIndex: gi, yAxisIndex: gi, silent: true, clip: false, data: [[1, 0]], renderItem: violinRender(vs[0], 1, GREEN_V)});
  series.push({type: 'custom', xAxisIndex: gi, yAxisIndex: gi, silent: true, clip: false, data: [[1, 0]], renderItem: boxRender(bs[0], 1, GREEN_B)});
  series.push({type: 'custom', xAxisIndex: gi, yAxisIndex: gi, silent: true, clip: false, data: [[2, 0]], renderItem: violinRender(vs[1], 2, YEL_V)});
  series.push({type: 'custom', xAxisIndex: gi, yAxisIndex: gi, silent: true, clip: false, data: [[2, 0]], renderItem: boxRender(bs[1], 2, YEL_B)});
  series.push({type: 'scatter', xAxisIndex: gi, yAxisIndex: gi, silent: true, symbol: 'circle', symbolSize: 6,
    itemStyle: {color: 'rgba(30,30,30,0.78)'}, data: points[id].map(([dx, y]) => [2 + dx, y])});

  // upper segment of broken axis
  if (L.upper) {
    const U = L.upper, up = uppers[id];
    const ug = grids.length;
    grids.push({left: left, top: U.top, width: width, height: U.bottom - U.top, containLabel: false, outerBoundsMode: 'none'});
    xAxes.push({gridIndex: ug, type: 'value', min: 0.3, max: 2.7, show: false});
    const utv = up.ticks.map(parseFloat);
    yAxes.push({gridIndex: ug, type: 'value', min: U.min, max: U.max,
      axisLine: {show: true, onZero: false, lineStyle: axisLineStyle},
      axisTick: {show: true, length: 4, inside: false, customValues: utv, lineStyle: axisLineStyle},
      axisLabel: {show: false},
      splitLine: {show: false}});
    series.push({type: 'custom', xAxisIndex: ug, yAxisIndex: ug, silent: true, clip: false,
      data: up.labels.map(t => [0.3, parseFloat(t)]), renderItem: upperLabelRender(up.labels, L.tickFs)});
    if (up.tail) {
      series.push({type: 'custom', xAxisIndex: ug, yAxisIndex: ug, silent: true, clip: false, data: [[1, 0]], renderItem: tailRender(up.tail)});
    }
  }

  // texts
  const fsL = 34;
  graphics.push(text(L.letter[0], L.letter[1] - 0.3465 * fsL, id, fsL, {align: 'left'}));
  graphics.push(text(L.yt[0], L.yt[1], yTitles[pi], L.yt[2], {rot: Math.PI / 2}));
  graphics.push(text(L.xt[0], L.xt[1], xTitles[pi], L.xt[2]));
  const A = L.ann;
  graphics.push(text(L.x1, A[0], nLabels[pi][0], A[3]));
  graphics.push(text(L.x2, A[0], nLabels[pi][1], A[3]));
  graphics.push(text(L.x2, A[1], '\u03b2 = ' + betaValues[pi], A[4]));
  graphics.push(text(L.x2, A[2], '{i|p}{n| = ' + pValues[pi] + '}', A[4], {rich: {
    i: {fontStyle: 'italic', fontSize: A[4], fontFamily: FONT, fill: '#000'},
    n: {fontSize: A[4], fontFamily: FONT, fill: '#000'}}}));
});

const chart = echarts.init(document.getElementById('chart'), null, {renderer: 'canvas', width: 1351, height: 1749});
chart.setOption({
  animation: false,
  backgroundColor: '#fff',
  grid: grids, xAxis: xAxes, yAxis: yAxes, series: series,
  graphic: {elements: graphics}
});
</script>
</body>
</html>
